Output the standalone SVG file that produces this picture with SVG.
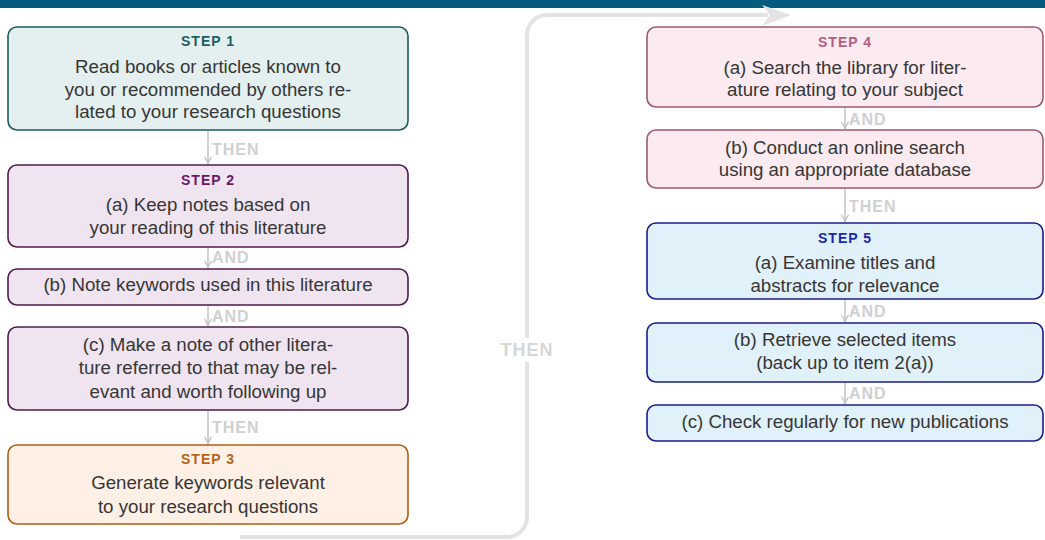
<svg xmlns="http://www.w3.org/2000/svg" width="1045" height="540" viewBox="0 0 1045 540">
<style>
.box{stroke-width:1.6}
.t{font-family:"Liberation Sans",Arial,sans-serif;font-size:18.7px;fill:#363636;text-anchor:middle}
.h{font-family:"Liberation Sans",Arial,sans-serif;font-size:14px;font-weight:bold;letter-spacing:1px;text-anchor:middle}
.lab{font-family:"Liberation Sans",Arial,sans-serif;font-size:16px;font-weight:bold;fill:#d0d0d0;letter-spacing:1px}
.con{stroke:#c2c2c2;stroke-width:1.5;fill:none}
.s1{fill:#e4f0f0;stroke:#1d5a5c}
.s2{fill:#f1e4f1;stroke:#4f1a4f}
.s3{fill:#fef0e4;stroke:#ad5f14}
.s4{fill:#fbeaf0;stroke:#9a5a72}
.s5{fill:#e1f1fa;stroke:#1c1c8c}
</style>
<defs>
<marker id="ah" viewBox="0 0 10 10" refX="9" refY="5" markerWidth="9" markerHeight="9" markerUnits="userSpaceOnUse" orient="auto">
<path d="M1 1 Q5 4 9 5 Q5 6 1 9" fill="none" stroke="#c2c2c2" stroke-width="1.4"/>
</marker>
</defs>
<rect x="0" y="0" width="1045" height="8" fill="#045b7e"/>

<g id="connectors">
<path d="M240 537 H507 A20 20 0 0 0 527 517 V35 A20 20 0 0 1 547 15 H768" fill="none" stroke="#e3e3e3" stroke-width="4"/>
<path d="M791 15 L762 5 L770 15 L762 26 Z" fill="#e3e3e3"/>
<rect x="498" y="338" width="58" height="24" fill="#fff"/>
<text x="527" y="356" font-family="Liberation Sans,Arial,sans-serif" font-size="18" font-weight="bold" fill="#d6d6d6" text-anchor="middle" letter-spacing="1">THEN</text>

<line class="con" x1="208" y1="131" x2="208" y2="164" marker-end="url(#ah)"/>
<text class="lab" x="212" y="155">THEN</text>
<line class="con" x1="208" y1="247" x2="208" y2="268" marker-end="url(#ah)"/>
<text class="lab" x="212" y="263">AND</text>
<line class="con" x1="208" y1="305" x2="208" y2="326" marker-end="url(#ah)"/>
<text class="lab" x="212" y="322">AND</text>
<line class="con" x1="208" y1="410" x2="208" y2="444" marker-end="url(#ah)"/>
<text class="lab" x="212" y="433">THEN</text>

<line class="con" x1="845" y1="107" x2="845" y2="129" marker-end="url(#ah)"/>
<text class="lab" x="849" y="125">AND</text>
<line class="con" x1="845" y1="188" x2="845" y2="222" marker-end="url(#ah)"/>
<text class="lab" x="849" y="212">THEN</text>
<line class="con" x1="845" y1="299" x2="845" y2="322" marker-end="url(#ah)"/>
<text class="lab" x="849" y="317">AND</text>
<line class="con" x1="845" y1="382" x2="845" y2="404" marker-end="url(#ah)"/>
<text class="lab" x="849" y="399">AND</text>
</g>

<g id="step1">
<rect class="box s1" x="8" y="27" width="400" height="103" rx="9"/>
<text class="h" x="208" y="46" fill="#1c5e62">STEP 1</text>
<text class="t" x="208" y="73">Read books or articles known to</text>
<text class="t" x="208" y="96">you or recommended by others re-</text>
<text class="t" x="208" y="118">lated to your research questions</text>
</g>
<g id="step2a">
<rect class="box s2" x="8" y="165" width="400" height="82" rx="9"/>
<text class="h" x="208" y="185" fill="#651a66">STEP 2</text>
<text class="t" x="208" y="211">(a) Keep notes based on</text>
<text class="t" x="208" y="234">your reading of this literature</text>
</g>
<g id="step2b">
<rect class="box s2" x="8" y="269" width="400" height="36" rx="9"/>
<text class="t" x="208" y="291">(b) Note keywords used in this literature</text>
</g>
<g id="step2c">
<rect class="box s2" x="8" y="327" width="400" height="83" rx="9"/>
<text class="t" x="208" y="351">(c) Make a note of other litera-</text>
<text class="t" x="208" y="374">ture referred to that may be rel-</text>
<text class="t" x="208" y="398">evant and worth following up</text>
</g>
<g id="step3">
<rect class="box s3" x="8" y="445" width="400" height="79" rx="9"/>
<text class="h" x="208" y="464" fill="#b5631c">STEP 3</text>
<text class="t" x="208" y="489">Generate keywords relevant</text>
<text class="t" x="208" y="513">to your research questions</text>
</g>

<g id="step4a">
<rect class="box s4" x="647" y="27" width="396" height="80" rx="9"/>
<text class="h" x="845" y="47" fill="#b15f80">STEP 4</text>
<text class="t" x="845" y="74">(a) Search the library for liter-</text>
<text class="t" x="845" y="96">ature relating to your subject</text>
</g>
<g id="step4b">
<rect class="box s4" x="647" y="130" width="396" height="58" rx="9"/>
<text class="t" x="845" y="154">(b) Conduct an online search</text>
<text class="t" x="845" y="176">using an appropriate database</text>
</g>
<g id="step5a">
<rect class="box s5" x="647" y="223" width="396" height="76" rx="9"/>
<text class="h" x="845" y="243" fill="#1c28a8">STEP 5</text>
<text class="t" x="845" y="269">(a) Examine titles and</text>
<text class="t" x="845" y="292">abstracts for relevance</text>
</g>
<g id="step5b">
<rect class="box s5" x="647" y="323" width="396" height="59" rx="9"/>
<text class="t" x="845" y="346">(b) Retrieve selected items</text>
<text class="t" x="845" y="369">(back up to item 2(a))</text>
</g>
<g id="step5c">
<rect class="box s5" x="647" y="405" width="396" height="36" rx="9"/>
<text class="t" x="845" y="428">(c) Check regularly for new publications</text>
</g>
</svg>
